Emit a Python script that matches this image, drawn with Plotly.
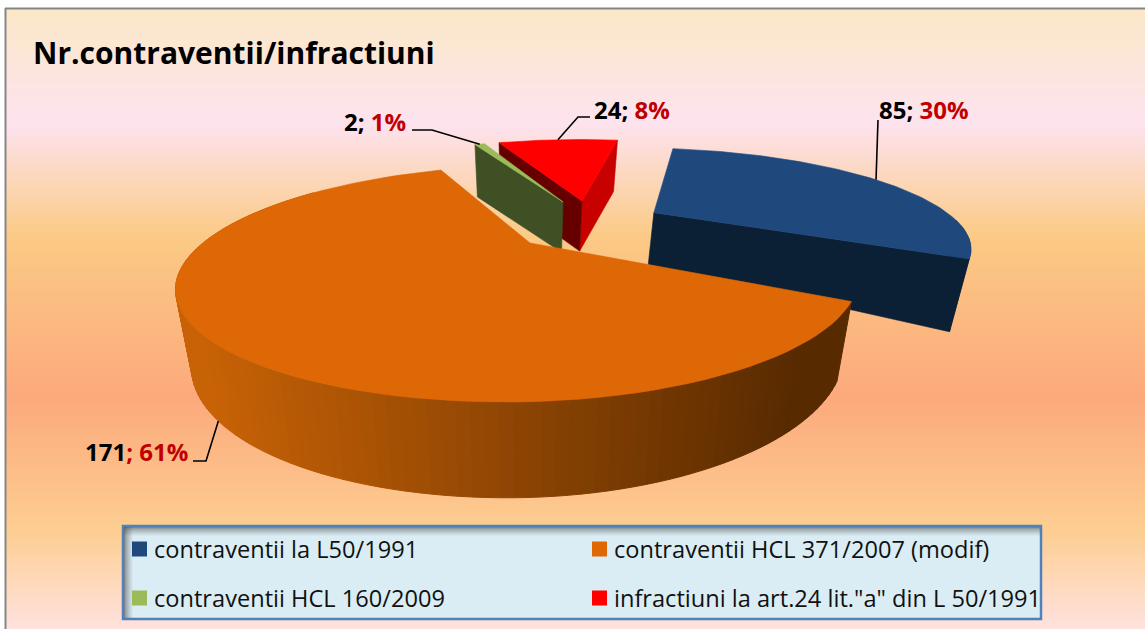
import math
import plotly.graph_objects as go

# ---- data ----
categories = ["contraventii la L50/1991", "contraventii HCL 371/2007 (modif)",
              "contraventii HCL 160/2009", 'infractiuni la art.24 lit."a" din L 50/1991']
counts = [85, 171, 2, 24]
percent_labels = ["30%", "61%", "1%", "8%"]
title_text = "Nr.contraventii/infractiuni"

# ---- styles ----
top_colors = ["#1f497d", "#de6806", "#9bbb59", "#ff0000"]
cut_colors = ["#0b1f35", "#5a2a00", "#3f5024", "#660000"]
far_cut_colors = ["#0b1f35", "#5a2a00", "#3f5024", "#c80000"]
bg_stops = [(9, "#fbe8c8"), (122, "#fde3ef"), (235, "#fbca85"), (395, "#fca97c"),
            (530, "#fdce92"), (629, "#ffe2e0")]
LBL = "#c00000"
FONT = "'Open Sans', sans-serif"

# ---- pie projection ----
CX, CY, A, B, K, SKEW = 530, 243, 327, 104.6, 0.342, -0.15
H0, P, SHRINK = 70, 0.75, 0.955
START = 9.5
# per-slice: pull in disk units (du, dv), radius scale, right-side x scale
pulls = [(0.405, -0.322, 0.995, 1.0), (0, 0, 1.0, 0.96), (0.095, -0.4525, 1.02, 1.0), (0.162, -0.466, 1.03, 1.0)]


def proj(i, u, v):
    w = 1 - K * v
    y = B * v / w
    x = A * u / w
    if x > 0:
        x *= pulls[i][3]
    return CX + x + SKEW * y, CY + y, w


def top(i, deg, r=1.0):
    du, dv, sc, _ = pulls[i]
    t = math.radians(deg)
    x, y, _w = proj(i, du + r * sc * math.sin(t), dv - r * sc * math.cos(t))
    return x, y


def bottom(i, deg, r=1.0):
    du, dv, sc, _ = pulls[i]
    t = math.radians(deg)
    x, y, w = proj(i, du + r * sc * math.sin(t), dv - r * sc * math.cos(t))
    h = H0 / w ** P * (0.8 + 0.2 * r)
    return CX + (x - CX) * SHRINK, y + h


fig = go.Figure()


def mix(y):
    for (y0, c0), (y1, c1) in zip(bg_stops, bg_stops[1:]):
        if y <= y1:
            f = (y - y0) / (y1 - y0)
            a = [int(c0[j:j + 2], 16) for j in (1, 3, 5)]
            b = [int(c1[j:j + 2], 16) for j in (1, 3, 5)]
            return "rgb(%d,%d,%d)" % tuple(round(p + (q - p) * f) for p, q in zip(a, b))
    return bg_stops[-1][1]


shapes = []
for y in range(9, 629, 3):
    shapes.append(dict(type="rect", xref="x", yref="y", x0=6, x1=1145, y0=y, y1=y + 3,
                       fillcolor=mix(y), line_width=0, layer="below"))
# frame
shapes.append(dict(type="line", x0=5.5, x1=5.5, y0=8, y1=629, line=dict(color="#868686", width=2), layer="below"))
shapes.append(dict(type="line", x0=5, x1=1145, y0=8.5, y1=8.5, line=dict(color="#868686", width=2), layer="below"))


def poly(pts, color, lw=0.6):
    fig.add_trace(go.Scatter(x=[p[0] for p in pts] + [pts[0][0]], y=[p[1] for p in pts] + [pts[0][1]],
                             mode="lines", fill="toself", fillcolor=color,
                             line=dict(color=color, width=lw), hoverinfo="skip", showlegend=False))


total = sum(counts)
spans = []
a0 = START
for c in counts:
    a1 = a0 + 360 * c / total
    spans.append((a0, a1))
    a0 = a1


def arc(a, b, n=60):
    return [a + (b - a) * j / n for j in range(n + 1)]


def wall_color(x):
    f = max(0, min(1, (x - 200) / (800 - 200)))
    c0, c1 = (200, 98, 6), (88, 42, 0)
    return "rgb(%d,%d,%d)" % tuple(round(p + (q - p) * f) for p, q in zip(c0, c1))


for i in [3, 2, 0, 1]:
    a, b = spans[i]
    ap_t, ap_b = top(i, a, 0), bottom(i, a, 0)
    if i == 0:
        angs = arc(95, b, 10)
        poly([top(i, t) for t in angs] + [bottom(i, t) for t in reversed(angs)], cut_colors[i])
        poly([ap_t, top(i, b), bottom(i, b), ap_b], cut_colors[i])
    if i == 2:
        poly([ap_t, top(i, a), bottom(i, a), ap_b], cut_colors[i])
    if i == 3:
        poly([ap_t, top(i, b), bottom(i, b), ap_b], far_cut_colors[i])
        poly([ap_t, top(i, a), bottom(i, a), ap_b], cut_colors[i])
    if i == 1:
        angs = arc(a, min(b, 305), 110)
        for t0, t1 in zip(angs, angs[1:]):
            c = wall_color(top(i, (t0 + t1) / 2)[0])
            poly([top(i, t0), top(i, t1), bottom(i, t1), bottom(i, t0)], c, 1)
    poly([ap_t] + [top(i, t) for t in arc(a, b, 90 if b - a > 10 else 8)], top_colors[i])

# leader lines: label end, elbow, rim point of the slice
mids = [(s + e) / 2 for s, e in spans]
leaders = [
    [(878, 120), top(0, mids[0])],
    [(193, 461), (206, 461), bottom(1, mids[1])],
    [(412, 130), (432, 130), top(2, mids[2])],
    [(590, 117), (578, 117), top(3, mids[3])],
]
for pts in leaders:
    fig.add_trace(go.Scatter(x=[p[0] for p in pts], y=[p[1] for p in pts], mode="lines",
                             line=dict(color="black", width=1.6), hoverinfo="skip", showlegend=False))

annotations = []
label_pos = [(877, 109), (83, 451), (342, 121), (592, 109)]
for c, p, (x, y) in zip(counts, percent_labels, label_pos):
    annotations.append(dict(x=x, y=y, xref="x", yref="y", xanchor="left", yanchor="middle", showarrow=False,
                            text=f"<b>{c}<span style='color:{LBL}'>; {p}</span></b>" if c == 171 else
                            f"<b>{c}; <span style='color:{LBL}'>{p}</span></b>",
                            font=dict(family=FONT, size=24, color="black")))

# legend box
LX0, LX1, LY0, LY1 = 123, 1041, 526, 619
shapes.append(dict(type="rect", x0=LX0, x1=LX1, y0=LY0, y1=LY1, fillcolor="#daedf4",
                   line=dict(color="#4f81bd", width=2.5), layer="below"))
for j in range(9):
    op = 0.55 * (1 - j / 9) ** 1.3
    shapes.append(dict(type="rect", x0=LX0 + 1, x1=LX1 - 1, y0=LY0 + 1 + j, y1=LY0 + 2 + j,
                       fillcolor=f"rgba(70,70,70,{op:.3f})", line_width=0, layer="below"))
    shapes.append(dict(type="rect", x0=LX0 + 1 + j, x1=LX0 + 2 + j, y0=LY0 + 1, y1=LY1 - 1,
                       fillcolor=f"rgba(70,70,70,{op:.3f})", line_width=0, layer="below"))

legend_pos = [(139.5, 549), (599.5, 549), (139.5, 598), (599.5, 598)]
for name, col, (x, y) in zip(categories, top_colors, legend_pos):
    fig.add_trace(go.Scatter(x=[x], y=[y], mode="markers", name=name, showlegend=False, hoverinfo="name",
                             marker=dict(symbol="square", size=15, color=col, line_width=0)))
    annotations.append(dict(x=x + 12.5, y=y, xref="x", yref="y", xanchor="left", yanchor="middle",
                            showarrow=False, text=name, font=dict(family=FONT, size=23.6, color="#111111")))

fig.update_layout(
    width=1145, height=629, margin=dict(l=0, r=0, t=0, b=0),
    paper_bgcolor="white", plot_bgcolor="rgba(0,0,0,0)", showlegend=False,
    xaxis=dict(range=[0, 1145], visible=False, fixedrange=True),
    yaxis=dict(range=[629, 0], visible=False, fixedrange=True),
    title=dict(text=f"<b>{title_text}</b>", x=33 / 1145, xanchor="left", xref="paper",
               y=1 - 53 / 629, yanchor="middle", yref="paper",
               font=dict(family=FONT, size=30, color="black")),
    shapes=shapes, annotations=annotations,
)
fig.write_html("out.html", post_script="document.body.style.margin='0';document.documentElement.style.overflow='hidden';",
               config={"displayModeBar": False})
